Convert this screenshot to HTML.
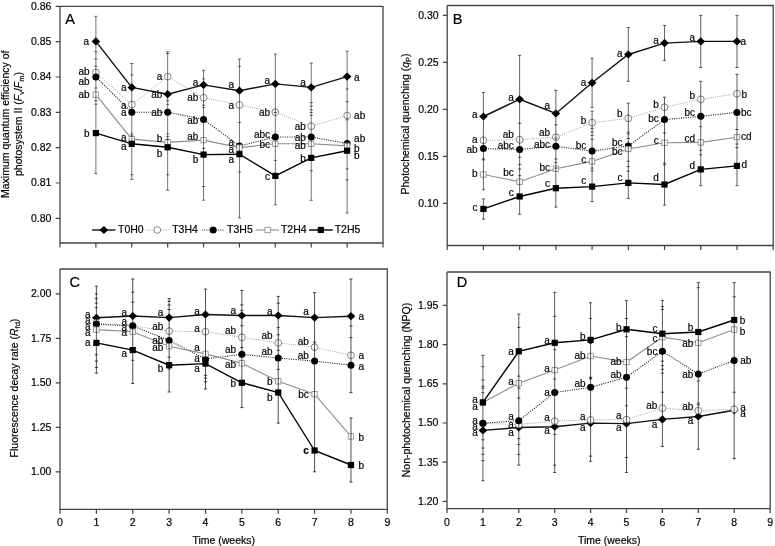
<!DOCTYPE html>
<html><head><meta charset="utf-8"><style>
html,body{margin:0;padding:0;background:#fff;}
svg{display:block;will-change:transform}
text{font-family:"Liberation Sans", sans-serif;fill:#000;stroke:#000;stroke-width:0.18px}
.t{font-size:10.5px}
.l{font-size:10px}
.big{font-size:14.5px}
.ti{font-size:10.5px}
</style></head><body>
<svg width="775" height="546" viewBox="0 0 775 546">
<rect width="775" height="546" fill="#fff"/>
<path d="M60.0,6.3V243.0H383.0V6.3H60.0" fill="none" stroke="#444" stroke-width="1.3"/>
<path d="M55.7,6.3H60.0M55.7,41.6H60.0M55.7,77.0H60.0M55.7,112.3H60.0M55.7,147.6H60.0M55.7,183.0H60.0M55.7,218.3H60.0M60.00,243.0V247.5M95.89,243.0V247.5M131.78,243.0V247.5M167.67,243.0V247.5M203.56,243.0V247.5M239.45,243.0V247.5M275.34,243.0V247.5M311.23,243.0V247.5M347.12,243.0V247.5M383.01,243.0V247.5" stroke="#444" stroke-width="1.2" fill="none"/>
<text x="51.4" y="9.7" text-anchor="end" class="t">0.86</text>
<text x="51.4" y="45.0" text-anchor="end" class="t">0.85</text>
<text x="51.4" y="80.4" text-anchor="end" class="t">0.84</text>
<text x="51.4" y="115.7" text-anchor="end" class="t">0.83</text>
<text x="51.4" y="151.0" text-anchor="end" class="t">0.82</text>
<text x="51.4" y="186.4" text-anchor="end" class="t">0.81</text>
<text x="51.4" y="221.7" text-anchor="end" class="t">0.80</text>
<text x="65.2" y="23.8" class="big">A</text>
<polyline points="95.89,41.40 131.78,87.40 167.67,94.20 203.56,84.90 239.45,90.70 275.34,83.90 311.23,87.40 347.12,76.60" fill="none" stroke="#111" stroke-width="1.4"/>
<polyline points="95.89,72.50 131.78,104.60 167.67,76.60 203.56,97.70 239.45,104.90 275.34,112.20 311.23,126.20 347.12,115.50" fill="none" stroke="#999" stroke-width="0.9" stroke-dasharray="1 1.2"/>
<polyline points="95.89,77.00 131.78,112.20 167.67,112.20 203.56,119.40 239.45,146.00 275.34,137.00 311.23,137.00 347.12,143.40" fill="none" stroke="#111" stroke-width="1.1" stroke-dasharray="1 1.3"/>
<polyline points="95.89,94.60 131.78,139.10 167.67,142.40 203.56,140.10 239.45,147.60 275.34,143.80 311.23,143.80 347.12,145.90" fill="none" stroke="#8c8c8c" stroke-width="1.1"/>
<polyline points="95.89,133.10 131.78,143.80 167.67,147.30 203.56,154.60 239.45,154.20 275.34,175.90 311.23,157.90 347.12,150.70" fill="none" stroke="#000" stroke-width="1.4"/>
<path d="M91.59,41.40L95.89,37.30L100.19,41.40L95.89,45.50Z" fill="#000"/>
<path d="M127.48,87.40L131.78,83.30L136.08,87.40L131.78,91.50Z" fill="#000"/>
<path d="M163.37,94.20L167.67,90.10L171.97,94.20L167.67,98.30Z" fill="#000"/>
<path d="M199.26,84.90L203.56,80.80L207.86,84.90L203.56,89.00Z" fill="#000"/>
<path d="M235.15,90.70L239.45,86.60L243.75,90.70L239.45,94.80Z" fill="#000"/>
<path d="M271.04,83.90L275.34,79.80L279.64,83.90L275.34,88.00Z" fill="#000"/>
<path d="M306.93,87.40L311.23,83.30L315.53,87.40L311.23,91.50Z" fill="#000"/>
<path d="M342.82,76.60L347.12,72.50L351.42,76.60L347.12,80.70Z" fill="#000"/>
<circle cx="95.89" cy="72.50" r="3.4" fill="#fff" stroke="#777" stroke-width="0.9"/>
<circle cx="131.78" cy="104.60" r="3.4" fill="#fff" stroke="#777" stroke-width="0.9"/>
<circle cx="167.67" cy="76.60" r="3.4" fill="#fff" stroke="#777" stroke-width="0.9"/>
<circle cx="203.56" cy="97.70" r="3.4" fill="#fff" stroke="#777" stroke-width="0.9"/>
<circle cx="239.45" cy="104.90" r="3.4" fill="#fff" stroke="#777" stroke-width="0.9"/>
<circle cx="275.34" cy="112.20" r="3.4" fill="#fff" stroke="#777" stroke-width="0.9"/>
<circle cx="311.23" cy="126.20" r="3.4" fill="#fff" stroke="#777" stroke-width="0.9"/>
<circle cx="347.12" cy="115.50" r="3.4" fill="#fff" stroke="#777" stroke-width="0.9"/>
<circle cx="95.89" cy="77.00" r="3.5" fill="#000"/>
<circle cx="131.78" cy="112.20" r="3.5" fill="#000"/>
<circle cx="167.67" cy="112.20" r="3.5" fill="#000"/>
<circle cx="203.56" cy="119.40" r="3.5" fill="#000"/>
<circle cx="239.45" cy="146.00" r="3.5" fill="#000"/>
<circle cx="275.34" cy="137.00" r="3.5" fill="#000"/>
<circle cx="311.23" cy="137.00" r="3.5" fill="#000"/>
<circle cx="347.12" cy="143.40" r="3.5" fill="#000"/>
<rect x="93.19" y="91.90" width="5.4" height="5.4" fill="#fff" stroke="#888" stroke-width="0.8"/>
<rect x="129.08" y="136.40" width="5.4" height="5.4" fill="#fff" stroke="#888" stroke-width="0.8"/>
<rect x="164.97" y="139.70" width="5.4" height="5.4" fill="#fff" stroke="#888" stroke-width="0.8"/>
<rect x="200.86" y="137.40" width="5.4" height="5.4" fill="#fff" stroke="#888" stroke-width="0.8"/>
<rect x="236.75" y="144.90" width="5.4" height="5.4" fill="#fff" stroke="#888" stroke-width="0.8"/>
<rect x="272.64" y="141.10" width="5.4" height="5.4" fill="#fff" stroke="#888" stroke-width="0.8"/>
<rect x="308.53" y="141.10" width="5.4" height="5.4" fill="#fff" stroke="#888" stroke-width="0.8"/>
<rect x="344.42" y="143.20" width="5.4" height="5.4" fill="#fff" stroke="#888" stroke-width="0.8"/>
<rect x="92.79" y="130.00" width="6.2" height="6.2" fill="#000"/>
<rect x="128.68" y="140.70" width="6.2" height="6.2" fill="#000"/>
<rect x="164.57" y="144.20" width="6.2" height="6.2" fill="#000"/>
<rect x="200.46" y="151.50" width="6.2" height="6.2" fill="#000"/>
<rect x="236.35" y="151.10" width="6.2" height="6.2" fill="#000"/>
<rect x="272.24" y="172.80" width="6.2" height="6.2" fill="#000"/>
<rect x="308.13" y="154.80" width="6.2" height="6.2" fill="#000"/>
<rect x="344.02" y="147.60" width="6.2" height="6.2" fill="#000"/>
<path d="M95.89,16.30V173.60M94.29,16.30H97.49M94.29,51.70H97.49M94.29,59.00H97.49M94.29,66.20H97.49M94.29,88.00H97.49M94.29,100.70H97.49M94.29,104.30H97.49M94.29,173.60H97.49M131.78,63.50V179.40M130.18,63.50H133.38M130.18,74.90H133.38M130.18,134.00H133.38M130.18,135.80H133.38M130.18,174.80H133.38M130.18,179.40H133.38M167.67,51.70V190.20M166.07,51.70H169.27M166.07,53.50H169.27M166.07,100.70H169.27M166.07,104.30H169.27M166.07,134.00H169.27M166.07,136.70H169.27M166.07,139.50H169.27M166.07,174.80H169.27M166.07,190.20H169.27M203.56,70.20V200.20M201.96,70.20H205.16M201.96,78.90H205.16M201.96,105.20H205.16M201.96,107.70H205.16M201.96,148.50H205.16M201.96,186.60H205.16M201.96,200.20H205.16M239.45,59.00V217.90M237.85,59.00H241.05M237.85,66.30H241.05M237.85,122.50H241.05M237.85,172.20H241.05M237.85,217.90H241.05M275.34,54.10V204.80M273.74,54.10H276.94M273.74,112.50H276.94M273.74,160.40H276.94M273.74,204.80H276.94M311.23,63.20V200.30M309.63,63.20H312.83M309.63,102.60H312.83M309.63,106.20H312.83M309.63,109.80H312.83M309.63,112.50H312.83M309.63,115.30H312.83M309.63,170.70H312.83M309.63,200.30H312.83M347.12,51.20V213.00M345.52,51.20H348.72M345.52,89.00H348.72M345.52,101.70H348.72M345.52,119.80H348.72M345.52,168.90H348.72M345.52,179.80H348.72M345.52,213.00H348.72" stroke="#000" stroke-opacity="0.62" stroke-width="0.9" fill="none"/>
<text x="89.09" y="45.00" text-anchor="end" class="l">a</text>
<text x="89.59" y="74.90" text-anchor="end" class="l">ab</text>
<text x="89.59" y="84.60" text-anchor="end" class="l">ab</text>
<text x="89.59" y="98.20" text-anchor="end" class="l">ab</text>
<text x="89.59" y="136.70" text-anchor="end" class="l">b</text>
<text x="126.48" y="91.00" text-anchor="end" class="l">a</text>
<text x="126.48" y="108.50" text-anchor="end" class="l">a</text>
<text x="126.48" y="115.80" text-anchor="end" class="l">a</text>
<text x="126.48" y="140.80" text-anchor="end" class="l">a</text>
<text x="126.48" y="149.90" text-anchor="end" class="l">a</text>
<text x="162.37" y="80.20" text-anchor="end" class="l">a</text>
<text x="162.37" y="97.80" text-anchor="end" class="l">ab</text>
<text x="162.37" y="115.80" text-anchor="end" class="l">ab</text>
<text x="162.37" y="142.30" text-anchor="end" class="l">b</text>
<text x="162.37" y="157.20" text-anchor="end" class="l">b</text>
<text x="198.26" y="86.40" text-anchor="end" class="l">a</text>
<text x="198.26" y="101.30" text-anchor="end" class="l">ab</text>
<text x="198.26" y="123.60" text-anchor="end" class="l">ab</text>
<text x="198.26" y="139.80" text-anchor="end" class="l">ab</text>
<text x="198.26" y="162.50" text-anchor="end" class="l">b</text>
<text x="234.15" y="88.10" text-anchor="end" class="l">a</text>
<text x="234.15" y="108.50" text-anchor="end" class="l">a</text>
<text x="234.15" y="145.60" text-anchor="end" class="l">a</text>
<text x="234.15" y="152.60" text-anchor="end" class="l">a</text>
<text x="234.15" y="162.60" text-anchor="end" class="l">a</text>
<text x="270.04" y="83.90" text-anchor="end" class="l">a</text>
<text x="270.04" y="115.60" text-anchor="end" class="l">ab</text>
<text x="270.04" y="137.50" text-anchor="end" class="l">abc</text>
<text x="270.04" y="148.10" text-anchor="end" class="l">bc</text>
<text x="270.04" y="180.10" text-anchor="end" class="l">c</text>
<text x="305.93" y="86.00" text-anchor="end" class="l">a</text>
<text x="305.93" y="129.80" text-anchor="end" class="l">ab</text>
<text x="305.93" y="141.20" text-anchor="end" class="l">ab</text>
<text x="305.93" y="148.50" text-anchor="end" class="l">ab</text>
<text x="305.93" y="161.90" text-anchor="end" class="l">b</text>
<text x="354.12" y="80.60" class="l">a</text>
<text x="354.12" y="119.10" class="l">ab</text>
<text x="354.12" y="142.30" class="l">ab</text>
<text x="354.12" y="152.20" class="l">b</text>
<text x="354.12" y="159.40" class="l">b</text>
<path d="M92.1,230.0H115.5" stroke="#111" stroke-width="1.4"/>
<path d="M99.60,230.00L103.90,225.90L108.20,230.00L103.90,234.10Z" fill="#000"/>
<path d="M146,230.0H168.7" stroke="#999" stroke-width="0.9" stroke-dasharray="1 1.2"/>
<circle cx="157.30" cy="230.00" r="3.4" fill="#fff" stroke="#777" stroke-width="0.9"/>
<path d="M201.8,230.0H224.5" stroke="#111" stroke-width="1.1" stroke-dasharray="1 1.3"/>
<circle cx="213.20" cy="230.00" r="3.5" fill="#000"/>
<path d="M255.6,230.0H279" stroke="#8c8c8c" stroke-width="1.1"/>
<rect x="264.90" y="227.30" width="5.4" height="5.4" fill="#fff" stroke="#888" stroke-width="0.8"/>
<path d="M309,230.0H332.8" stroke="#000" stroke-width="1.4"/>
<rect x="317.70" y="226.90" width="6.2" height="6.2" fill="#000"/>
<text x="118.0" y="233.3" class="t">T0H0</text>
<text x="172.2" y="233.3" class="t">T3H4</text>
<text x="227.1" y="233.3" class="t">T3H5</text>
<text x="280.9" y="233.3" class="t">T2H4</text>
<text x="334.7" y="233.3" class="t">T2H5</text>
<text transform="translate(9.3,124.3) rotate(-90)" text-anchor="middle" class="ti">Maximum quantum efficiency of</text>
<text transform="translate(21.6,124.0) rotate(-90)" text-anchor="middle" class="ti">photosystem II (<tspan font-style="italic">F</tspan><tspan font-size="7.5" dy="2">v</tspan><tspan dy="-2">/</tspan><tspan font-style="italic">F</tspan><tspan font-size="7.5" dy="2">m</tspan><tspan dy="-2">)</tspan></text>
<path d="M447.2,5.5V245.5H773.2V5.5H447.2" fill="none" stroke="#444" stroke-width="1.3"/>
<path d="M442.9,15.4H447.2M442.9,62.4H447.2M442.9,109.4H447.2M442.9,156.3H447.2M442.9,203.3H447.2M447.20,245.5V250.0M483.42,245.5V250.0M519.64,245.5V250.0M555.86,245.5V250.0M592.08,245.5V250.0M628.30,245.5V250.0M664.52,245.5V250.0M700.74,245.5V250.0M736.96,245.5V250.0M773.18,245.5V250.0" stroke="#444" stroke-width="1.2" fill="none"/>
<text x="438.6" y="18.8" text-anchor="end" class="t">0.30</text>
<text x="438.6" y="65.8" text-anchor="end" class="t">0.25</text>
<text x="438.6" y="112.8" text-anchor="end" class="t">0.20</text>
<text x="438.6" y="159.7" text-anchor="end" class="t">0.15</text>
<text x="438.6" y="206.7" text-anchor="end" class="t">0.10</text>
<text x="452.8" y="23.8" class="big">B</text>
<polyline points="483.42,116.50 519.64,99.30 555.86,113.50 592.08,82.80 628.30,54.50 664.52,43.10 700.74,41.40 736.96,41.40" fill="none" stroke="#111" stroke-width="1.4"/>
<polyline points="483.42,140.30 519.64,139.70 555.86,137.20 592.08,122.70 628.30,118.40 664.52,107.20 700.74,99.30 736.96,93.70" fill="none" stroke="#999" stroke-width="0.9" stroke-dasharray="1 1.2"/>
<polyline points="483.42,148.60 519.64,149.40 555.86,146.30 592.08,151.10 628.30,145.90 664.52,119.60 700.74,116.30 736.96,112.40" fill="none" stroke="#111" stroke-width="1.1" stroke-dasharray="1 1.3"/>
<polyline points="483.42,174.50 519.64,181.70 555.86,168.70 592.08,161.40 628.30,149.00 664.52,142.80 700.74,142.40 736.96,137.20" fill="none" stroke="#8c8c8c" stroke-width="1.1"/>
<polyline points="483.42,208.90 519.64,196.50 555.86,188.20 592.08,186.60 628.30,182.90 664.52,184.50 700.74,169.40 736.96,165.90" fill="none" stroke="#000" stroke-width="1.4"/>
<path d="M479.12,116.50L483.42,112.40L487.72,116.50L483.42,120.60Z" fill="#000"/>
<path d="M515.34,99.30L519.64,95.20L523.94,99.30L519.64,103.40Z" fill="#000"/>
<path d="M551.56,113.50L555.86,109.40L560.16,113.50L555.86,117.60Z" fill="#000"/>
<path d="M587.78,82.80L592.08,78.70L596.38,82.80L592.08,86.90Z" fill="#000"/>
<path d="M624.00,54.50L628.30,50.40L632.60,54.50L628.30,58.60Z" fill="#000"/>
<path d="M660.22,43.10L664.52,39.00L668.82,43.10L664.52,47.20Z" fill="#000"/>
<path d="M696.44,41.40L700.74,37.30L705.04,41.40L700.74,45.50Z" fill="#000"/>
<path d="M732.66,41.40L736.96,37.30L741.26,41.40L736.96,45.50Z" fill="#000"/>
<circle cx="483.42" cy="140.30" r="3.4" fill="#fff" stroke="#777" stroke-width="0.9"/>
<circle cx="519.64" cy="139.70" r="3.4" fill="#fff" stroke="#777" stroke-width="0.9"/>
<circle cx="555.86" cy="137.20" r="3.4" fill="#fff" stroke="#777" stroke-width="0.9"/>
<circle cx="592.08" cy="122.70" r="3.4" fill="#fff" stroke="#777" stroke-width="0.9"/>
<circle cx="628.30" cy="118.40" r="3.4" fill="#fff" stroke="#777" stroke-width="0.9"/>
<circle cx="664.52" cy="107.20" r="3.4" fill="#fff" stroke="#777" stroke-width="0.9"/>
<circle cx="700.74" cy="99.30" r="3.4" fill="#fff" stroke="#777" stroke-width="0.9"/>
<circle cx="736.96" cy="93.70" r="3.4" fill="#fff" stroke="#777" stroke-width="0.9"/>
<circle cx="483.42" cy="148.60" r="3.5" fill="#000"/>
<circle cx="519.64" cy="149.40" r="3.5" fill="#000"/>
<circle cx="555.86" cy="146.30" r="3.5" fill="#000"/>
<circle cx="592.08" cy="151.10" r="3.5" fill="#000"/>
<circle cx="628.30" cy="145.90" r="3.5" fill="#000"/>
<circle cx="664.52" cy="119.60" r="3.5" fill="#000"/>
<circle cx="700.74" cy="116.30" r="3.5" fill="#000"/>
<circle cx="736.96" cy="112.40" r="3.5" fill="#000"/>
<rect x="480.72" y="171.80" width="5.4" height="5.4" fill="#fff" stroke="#888" stroke-width="0.8"/>
<rect x="516.94" y="179.00" width="5.4" height="5.4" fill="#fff" stroke="#888" stroke-width="0.8"/>
<rect x="553.16" y="166.00" width="5.4" height="5.4" fill="#fff" stroke="#888" stroke-width="0.8"/>
<rect x="589.38" y="158.70" width="5.4" height="5.4" fill="#fff" stroke="#888" stroke-width="0.8"/>
<rect x="625.60" y="146.30" width="5.4" height="5.4" fill="#fff" stroke="#888" stroke-width="0.8"/>
<rect x="661.82" y="140.10" width="5.4" height="5.4" fill="#fff" stroke="#888" stroke-width="0.8"/>
<rect x="698.04" y="139.70" width="5.4" height="5.4" fill="#fff" stroke="#888" stroke-width="0.8"/>
<rect x="734.26" y="134.50" width="5.4" height="5.4" fill="#fff" stroke="#888" stroke-width="0.8"/>
<rect x="480.32" y="205.80" width="6.2" height="6.2" fill="#000"/>
<rect x="516.54" y="193.40" width="6.2" height="6.2" fill="#000"/>
<rect x="552.76" y="185.10" width="6.2" height="6.2" fill="#000"/>
<rect x="588.98" y="183.50" width="6.2" height="6.2" fill="#000"/>
<rect x="625.20" y="179.80" width="6.2" height="6.2" fill="#000"/>
<rect x="661.42" y="181.40" width="6.2" height="6.2" fill="#000"/>
<rect x="697.64" y="166.30" width="6.2" height="6.2" fill="#000"/>
<rect x="733.86" y="162.80" width="6.2" height="6.2" fill="#000"/>
<path d="M483.42,92.50V189.80M483.42,198.90V219.20M481.82,92.50H485.02M481.82,158.90H485.02M481.82,159.90H485.02M481.82,189.80H485.02M481.82,198.90H485.02M481.82,219.20H485.02M519.64,55.30V214.30M518.04,55.30H521.24M518.04,123.30H521.24M518.04,157.20H521.24M518.04,164.50H521.24M518.04,169.00H521.24M518.04,175.70H521.24M518.04,214.30H521.24M555.86,90.30V207.10M554.26,90.30H557.46M554.26,124.80H557.46M554.26,138.20H557.46M554.26,159.00H557.46M554.26,162.60H557.46M554.26,168.10H557.46M554.26,207.10H557.46M592.08,58.20V107.60M592.08,111.20V201.60M590.48,58.20H593.68M590.48,107.60H593.68M590.48,111.20H593.68M590.48,128.40H593.68M590.48,132.00H593.68M590.48,135.40H593.68M590.48,139.30H593.68M590.48,168.10H593.68M590.48,170.80H593.68M590.48,201.60H593.68M628.30,27.60V81.30M628.30,103.20V198.40M626.70,27.60H629.90M626.70,81.30H629.90M626.70,103.20H629.90M626.70,132.20H629.90M626.70,134.00H629.90M626.70,138.50H629.90M626.70,161.20H629.90M626.70,166.60H629.90M626.70,171.20H629.90M626.70,198.40H629.90M664.52,25.40V60.40M664.52,97.20V205.20M662.92,25.40H666.12M662.92,60.40H666.12M662.92,97.20H666.12M662.92,133.00H666.12M662.92,163.00H666.12M662.92,164.80H666.12M662.92,205.20H666.12M700.74,15.40V67.50M700.74,81.30V185.70M699.14,15.40H702.34M699.14,67.50H702.34M699.14,81.30H702.34M699.14,126.70H702.34M699.14,150.30H702.34M699.14,154.80H702.34M699.14,185.70H702.34M736.96,15.40V67.50M736.96,74.40V185.70M735.36,15.40H738.56M735.36,67.50H738.56M735.36,74.40H738.56M735.36,129.50H738.56M735.36,144.00H738.56M735.36,147.60H738.56M735.36,185.70H738.56" stroke="#000" stroke-opacity="0.69" stroke-width="0.9" fill="none"/>
<text x="477.62" y="118.40" text-anchor="end" class="l">a</text>
<text x="477.62" y="142.90" text-anchor="end" class="l">a</text>
<text x="477.62" y="152.60" text-anchor="end" class="l">ab</text>
<text x="477.62" y="177.00" text-anchor="end" class="l">b</text>
<text x="477.62" y="210.90" text-anchor="end" class="l">c</text>
<text x="513.84" y="100.50" text-anchor="end" class="l">a</text>
<text x="513.84" y="138.10" text-anchor="end" class="l">ab</text>
<text x="513.84" y="149.10" text-anchor="end" class="l">abc</text>
<text x="513.84" y="176.40" text-anchor="end" class="l">bc</text>
<text x="513.84" y="196.10" text-anchor="end" class="l">c</text>
<text x="550.06" y="108.50" text-anchor="end" class="l">a</text>
<text x="550.06" y="136.00" text-anchor="end" class="l">ab</text>
<text x="550.06" y="147.80" text-anchor="end" class="l">abc</text>
<text x="550.06" y="171.20" text-anchor="end" class="l">bc</text>
<text x="550.06" y="187.20" text-anchor="end" class="l">c</text>
<text x="586.28" y="86.00" text-anchor="end" class="l">a</text>
<text x="586.28" y="124.20" text-anchor="end" class="l">b</text>
<text x="586.28" y="149.10" text-anchor="end" class="l">bc</text>
<text x="586.28" y="162.50" text-anchor="end" class="l">c</text>
<text x="586.28" y="183.60" text-anchor="end" class="l">c</text>
<text x="622.50" y="57.40" text-anchor="end" class="l">a</text>
<text x="622.50" y="117.40" text-anchor="end" class="l">b</text>
<text x="622.50" y="146.40" text-anchor="end" class="l">bc</text>
<text x="622.50" y="155.30" text-anchor="end" class="l">bc</text>
<text x="622.50" y="180.60" text-anchor="end" class="l">c</text>
<text x="658.72" y="44.40" text-anchor="end" class="l">a</text>
<text x="658.72" y="108.10" text-anchor="end" class="l">b</text>
<text x="658.72" y="122.00" text-anchor="end" class="l">bc</text>
<text x="658.72" y="144.30" text-anchor="end" class="l">c</text>
<text x="658.72" y="181.20" text-anchor="end" class="l">d</text>
<text x="694.94" y="40.50" text-anchor="end" class="l">a</text>
<text x="694.94" y="98.80" text-anchor="end" class="l">b</text>
<text x="694.94" y="116.00" text-anchor="end" class="l">bc</text>
<text x="694.94" y="142.30" text-anchor="end" class="l">cd</text>
<text x="694.94" y="169.20" text-anchor="end" class="l">d</text>
<text x="740.46" y="45.00" class="l">a</text>
<text x="741.46" y="98.20" class="l">b</text>
<text x="740.96" y="116.00" class="l">bc</text>
<text x="740.96" y="139.60" class="l">cd</text>
<text x="741.46" y="168.10" class="l">d</text>
<text transform="translate(409.3,124.0) rotate(-90)" text-anchor="middle" class="ti">Photochemical quenching (<tspan font-style="italic">q</tspan><tspan font-size="7.5" dy="2">P</tspan><tspan dy="-2">)</tspan></text>
<path d="M60.0,269.0V509.3H387.3V269.0H60.0" fill="none" stroke="#444" stroke-width="1.3"/>
<path d="M55.7,293.9H60.0M55.7,338.4H60.0M55.7,382.9H60.0M55.7,427.4H60.0M55.7,471.8H60.0M60.00,509.3V513.8M96.37,509.3V513.8M132.74,509.3V513.8M169.11,509.3V513.8M205.48,509.3V513.8M241.85,509.3V513.8M278.22,509.3V513.8M314.59,509.3V513.8M350.96,509.3V513.8M387.33,509.3V513.8" stroke="#444" stroke-width="1.2" fill="none"/>
<text x="51.4" y="297.3" text-anchor="end" class="t">2.00</text>
<text x="51.4" y="341.8" text-anchor="end" class="t">1.75</text>
<text x="51.4" y="386.3" text-anchor="end" class="t">1.50</text>
<text x="51.4" y="430.8" text-anchor="end" class="t">1.25</text>
<text x="51.4" y="475.2" text-anchor="end" class="t">1.00</text>
<text x="60.00" y="526.3" text-anchor="middle" class="t">0</text>
<text x="96.37" y="526.3" text-anchor="middle" class="t">1</text>
<text x="132.74" y="526.3" text-anchor="middle" class="t">2</text>
<text x="169.11" y="526.3" text-anchor="middle" class="t">3</text>
<text x="205.48" y="526.3" text-anchor="middle" class="t">4</text>
<text x="241.85" y="526.3" text-anchor="middle" class="t">5</text>
<text x="278.22" y="526.3" text-anchor="middle" class="t">6</text>
<text x="314.59" y="526.3" text-anchor="middle" class="t">7</text>
<text x="350.96" y="526.3" text-anchor="middle" class="t">8</text>
<text x="387.33" y="526.3" text-anchor="middle" class="t">9</text>
<text x="69.5" y="287.0" class="big">C</text>
<polyline points="96.37,317.80 132.74,316.00 169.11,317.60 205.48,314.50 241.85,315.50 278.22,315.50 314.59,317.60 350.96,316.20" fill="none" stroke="#111" stroke-width="1.4"/>
<polyline points="96.37,323.00 132.74,325.90 169.11,331.10 205.48,331.70 241.85,337.30 278.22,342.90 314.59,347.20 350.96,355.30" fill="none" stroke="#999" stroke-width="0.9" stroke-dasharray="1 1.2"/>
<polyline points="96.37,324.20 132.74,326.00 169.11,340.40 205.48,359.00 241.85,354.30 278.22,358.00 314.59,361.10 350.96,365.20" fill="none" stroke="#111" stroke-width="1.1" stroke-dasharray="1 1.3"/>
<polyline points="96.37,329.60 132.74,331.70 169.11,346.20 205.48,353.90 241.85,363.30 278.22,381.30 314.59,394.20 350.96,436.40" fill="none" stroke="#8c8c8c" stroke-width="1.1"/>
<polyline points="96.37,342.90 132.74,350.10 169.11,365.20 205.48,363.60 241.85,382.80 278.22,392.50 314.59,450.50 350.96,465.00" fill="none" stroke="#000" stroke-width="1.4"/>
<path d="M92.07,317.80L96.37,313.70L100.67,317.80L96.37,321.90Z" fill="#000"/>
<path d="M128.44,316.00L132.74,311.90L137.04,316.00L132.74,320.10Z" fill="#000"/>
<path d="M164.81,317.60L169.11,313.50L173.41,317.60L169.11,321.70Z" fill="#000"/>
<path d="M201.18,314.50L205.48,310.40L209.78,314.50L205.48,318.60Z" fill="#000"/>
<path d="M237.55,315.50L241.85,311.40L246.15,315.50L241.85,319.60Z" fill="#000"/>
<path d="M273.92,315.50L278.22,311.40L282.52,315.50L278.22,319.60Z" fill="#000"/>
<path d="M310.29,317.60L314.59,313.50L318.89,317.60L314.59,321.70Z" fill="#000"/>
<path d="M346.66,316.20L350.96,312.10L355.26,316.20L350.96,320.30Z" fill="#000"/>
<circle cx="96.37" cy="323.00" r="3.4" fill="#fff" stroke="#777" stroke-width="0.9"/>
<circle cx="132.74" cy="325.90" r="3.4" fill="#fff" stroke="#777" stroke-width="0.9"/>
<circle cx="169.11" cy="331.10" r="3.4" fill="#fff" stroke="#777" stroke-width="0.9"/>
<circle cx="205.48" cy="331.70" r="3.4" fill="#fff" stroke="#777" stroke-width="0.9"/>
<circle cx="241.85" cy="337.30" r="3.4" fill="#fff" stroke="#777" stroke-width="0.9"/>
<circle cx="278.22" cy="342.90" r="3.4" fill="#fff" stroke="#777" stroke-width="0.9"/>
<circle cx="314.59" cy="347.20" r="3.4" fill="#fff" stroke="#777" stroke-width="0.9"/>
<circle cx="350.96" cy="355.30" r="3.4" fill="#fff" stroke="#777" stroke-width="0.9"/>
<circle cx="96.37" cy="324.20" r="3.5" fill="#000"/>
<circle cx="132.74" cy="326.00" r="3.5" fill="#000"/>
<circle cx="169.11" cy="340.40" r="3.5" fill="#000"/>
<circle cx="205.48" cy="359.00" r="3.5" fill="#000"/>
<circle cx="241.85" cy="354.30" r="3.5" fill="#000"/>
<circle cx="278.22" cy="358.00" r="3.5" fill="#000"/>
<circle cx="314.59" cy="361.10" r="3.5" fill="#000"/>
<circle cx="350.96" cy="365.20" r="3.5" fill="#000"/>
<rect x="93.67" y="326.90" width="5.4" height="5.4" fill="#fff" stroke="#888" stroke-width="0.8"/>
<rect x="130.04" y="329.00" width="5.4" height="5.4" fill="#fff" stroke="#888" stroke-width="0.8"/>
<rect x="166.41" y="343.50" width="5.4" height="5.4" fill="#fff" stroke="#888" stroke-width="0.8"/>
<rect x="202.78" y="351.20" width="5.4" height="5.4" fill="#fff" stroke="#888" stroke-width="0.8"/>
<rect x="239.15" y="360.60" width="5.4" height="5.4" fill="#fff" stroke="#888" stroke-width="0.8"/>
<rect x="275.52" y="378.60" width="5.4" height="5.4" fill="#fff" stroke="#888" stroke-width="0.8"/>
<rect x="311.89" y="391.50" width="5.4" height="5.4" fill="#fff" stroke="#888" stroke-width="0.8"/>
<rect x="348.26" y="433.70" width="5.4" height="5.4" fill="#fff" stroke="#888" stroke-width="0.8"/>
<rect x="93.27" y="339.80" width="6.2" height="6.2" fill="#000"/>
<rect x="129.64" y="347.00" width="6.2" height="6.2" fill="#000"/>
<rect x="166.01" y="362.10" width="6.2" height="6.2" fill="#000"/>
<rect x="202.38" y="360.50" width="6.2" height="6.2" fill="#000"/>
<rect x="238.75" y="379.70" width="6.2" height="6.2" fill="#000"/>
<rect x="275.12" y="389.40" width="6.2" height="6.2" fill="#000"/>
<rect x="311.49" y="447.40" width="6.2" height="6.2" fill="#000"/>
<rect x="347.86" y="461.90" width="6.2" height="6.2" fill="#000"/>
<path d="M96.37,286.20V373.20M94.77,286.20H97.97M94.77,294.00H97.97M94.77,298.60H97.97M94.77,303.10H97.97M94.77,307.60H97.97M94.77,354.80H97.97M94.77,361.10H97.97M94.77,367.50H97.97M94.77,373.20H97.97M132.74,279.00V383.50M131.14,279.00H134.34M131.14,292.20H134.34M131.14,302.20H134.34M131.14,360.30H134.34M131.14,383.50H134.34M169.11,298.60V392.00M167.51,298.60H170.71M167.51,301.30H170.71M167.51,304.90H170.71M167.51,309.50H170.71M167.51,357.20H170.71M167.51,369.00H170.71M167.51,392.00H170.71M205.48,289.10V389.00M203.88,289.10H207.08M203.88,375.40H207.08M203.88,378.10H207.08M203.88,381.70H207.08M203.88,389.00H207.08M241.85,290.40V407.60M240.25,290.40H243.45M240.25,304.90H243.45M240.25,310.40H243.45M240.25,325.80H243.45M240.25,347.50H243.45M240.25,407.60H243.45M278.22,296.40V423.10M276.62,296.40H279.82M276.62,303.10H279.82M276.62,327.60H279.82M276.62,334.80H279.82M276.62,350.30H279.82M276.62,369.30H279.82M276.62,423.10H279.82M314.59,292.60V471.80M312.99,292.60H316.19M312.99,342.10H316.19M312.99,471.80H316.19M350.96,279.00V392.70M350.96,418.00V482.10M349.36,279.00H352.56M349.36,326.10H352.56M349.36,337.60H352.56M349.36,392.70H352.56M349.36,418.00H352.56M349.36,482.10H352.56" stroke="#000" stroke-opacity="0.78" stroke-width="0.9" fill="none"/>
<text x="90.67" y="318.40" text-anchor="end" class="l">a</text>
<text x="90.67" y="324.20" text-anchor="end" class="l">a</text>
<text x="90.67" y="330.00" text-anchor="end" class="l">a</text>
<text x="90.67" y="335.80" text-anchor="end" class="l">a</text>
<text x="90.67" y="346.20" text-anchor="end" class="l">a</text>
<text x="127.04" y="316.00" text-anchor="end" class="l">a</text>
<text x="127.04" y="325.40" text-anchor="end" class="l">a</text>
<text x="127.04" y="330.50" text-anchor="end" class="l">a</text>
<text x="127.04" y="335.70" text-anchor="end" class="l">a</text>
<text x="127.04" y="357.40" text-anchor="end" class="l">a</text>
<text x="163.41" y="316.00" text-anchor="end" class="l">a</text>
<text x="163.41" y="329.90" text-anchor="end" class="l">ab</text>
<text x="163.41" y="344.00" text-anchor="end" class="l">ab</text>
<text x="163.41" y="351.20" text-anchor="end" class="l">ab</text>
<text x="163.41" y="371.90" text-anchor="end" class="l">b</text>
<text x="199.78" y="315.00" text-anchor="end" class="l">a</text>
<text x="199.78" y="331.60" text-anchor="end" class="l">a</text>
<text x="199.78" y="351.20" text-anchor="end" class="l">a</text>
<text x="199.78" y="362.20" text-anchor="end" class="l">a</text>
<text x="199.78" y="371.90" text-anchor="end" class="l">a</text>
<text x="236.15" y="314.00" text-anchor="end" class="l">a</text>
<text x="236.15" y="333.60" text-anchor="end" class="l">ab</text>
<text x="236.15" y="352.90" text-anchor="end" class="l">ab</text>
<text x="236.15" y="368.20" text-anchor="end" class="l">ab</text>
<text x="236.15" y="387.40" text-anchor="end" class="l">b</text>
<text x="272.52" y="314.60" text-anchor="end" class="l">a</text>
<text x="272.52" y="339.40" text-anchor="end" class="l">ab</text>
<text x="272.52" y="355.00" text-anchor="end" class="l">ab</text>
<text x="272.52" y="385.30" text-anchor="end" class="l">b</text>
<text x="272.52" y="400.50" text-anchor="end" class="l">b</text>
<text x="308.89" y="315.40" text-anchor="end" class="l">a</text>
<text x="308.89" y="344.60" text-anchor="end" class="l">ab</text>
<text x="308.89" y="358.50" text-anchor="end" class="l">ab</text>
<text x="308.89" y="397.80" text-anchor="end" class="l">bc</text>
<text x="308.79" y="453.70" text-anchor="end" class="l" font-weight="bold">c</text>
<text x="358.46" y="320.20" class="l">a</text>
<text x="358.46" y="359.10" class="l">a</text>
<text x="358.46" y="369.50" class="l">a</text>
<text x="358.46" y="440.60" class="l">b</text>
<text x="358.46" y="468.80" class="l">b</text>
<text transform="translate(17.8,388.0) rotate(-90)" text-anchor="middle" class="ti">Fluorescence decay rate (<tspan font-style="italic">R</tspan><tspan font-size="7.5" dy="2">fd</tspan><tspan dy="-2">)</tspan></text>
<text x="223.7" y="543.5" text-anchor="middle" class="ti">Time (weeks)</text>
<path d="M447.0,272.0V508.6H770.2V272.0H447.0" fill="none" stroke="#444" stroke-width="1.3"/>
<path d="M442.7,305.4H447.0M442.7,344.6H447.0M442.7,383.8H447.0M442.7,423.0H447.0M442.7,462.2H447.0M442.7,501.4H447.0M447.00,508.6V513.1M482.90,508.6V513.1M518.80,508.6V513.1M554.70,508.6V513.1M590.60,508.6V513.1M626.50,508.6V513.1M662.40,508.6V513.1M698.30,508.6V513.1M734.20,508.6V513.1M770.10,508.6V513.1" stroke="#444" stroke-width="1.2" fill="none"/>
<text x="438.4" y="308.8" text-anchor="end" class="t">1.95</text>
<text x="438.4" y="348.0" text-anchor="end" class="t">1.80</text>
<text x="438.4" y="387.2" text-anchor="end" class="t">1.65</text>
<text x="438.4" y="426.4" text-anchor="end" class="t">1.50</text>
<text x="438.4" y="465.6" text-anchor="end" class="t">1.35</text>
<text x="438.4" y="504.8" text-anchor="end" class="t">1.20</text>
<text x="447.00" y="525.6" text-anchor="middle" class="t">0</text>
<text x="482.90" y="525.6" text-anchor="middle" class="t">1</text>
<text x="518.80" y="525.6" text-anchor="middle" class="t">2</text>
<text x="554.70" y="525.6" text-anchor="middle" class="t">3</text>
<text x="590.60" y="525.6" text-anchor="middle" class="t">4</text>
<text x="626.50" y="525.6" text-anchor="middle" class="t">5</text>
<text x="662.40" y="525.6" text-anchor="middle" class="t">6</text>
<text x="698.30" y="525.6" text-anchor="middle" class="t">7</text>
<text x="734.20" y="525.6" text-anchor="middle" class="t">8</text>
<text x="770.10" y="525.6" text-anchor="middle" class="t">9</text>
<text x="456.8" y="287.0" class="big">D</text>
<polyline points="482.90,430.40 518.80,427.50 554.70,426.70 590.60,423.10 626.50,423.60 662.40,419.40 698.30,416.50 734.20,410.30" fill="none" stroke="#111" stroke-width="1.4"/>
<polyline points="482.90,423.50 518.80,424.50 554.70,421.10 590.60,420.00 626.50,419.60 662.40,408.20 698.30,410.70 734.20,409.30" fill="none" stroke="#999" stroke-width="0.9" stroke-dasharray="1 1.2"/>
<polyline points="482.90,423.20 518.80,420.70 554.70,392.50 590.60,387.30 626.50,377.20 662.40,351.30 698.30,374.10 734.20,360.40" fill="none" stroke="#111" stroke-width="1.1" stroke-dasharray="1 1.3"/>
<polyline points="482.90,402.40 518.80,383.20 554.70,370.10 590.60,356.00 626.50,362.10 662.40,337.20 698.30,342.80 734.20,329.60" fill="none" stroke="#8c8c8c" stroke-width="1.1"/>
<polyline points="482.90,402.40 518.80,351.30 554.70,342.80 590.60,339.90 626.50,329.30 662.40,333.70 698.30,332.00 734.20,320.00" fill="none" stroke="#000" stroke-width="1.4"/>
<path d="M478.60,430.40L482.90,426.30L487.20,430.40L482.90,434.50Z" fill="#000"/>
<path d="M514.50,427.50L518.80,423.40L523.10,427.50L518.80,431.60Z" fill="#000"/>
<path d="M550.40,426.70L554.70,422.60L559.00,426.70L554.70,430.80Z" fill="#000"/>
<path d="M586.30,423.10L590.60,419.00L594.90,423.10L590.60,427.20Z" fill="#000"/>
<path d="M622.20,423.60L626.50,419.50L630.80,423.60L626.50,427.70Z" fill="#000"/>
<path d="M658.10,419.40L662.40,415.30L666.70,419.40L662.40,423.50Z" fill="#000"/>
<path d="M694.00,416.50L698.30,412.40L702.60,416.50L698.30,420.60Z" fill="#000"/>
<path d="M729.90,410.30L734.20,406.20L738.50,410.30L734.20,414.40Z" fill="#000"/>
<circle cx="482.90" cy="423.50" r="3.4" fill="#fff" stroke="#777" stroke-width="0.9"/>
<circle cx="518.80" cy="424.50" r="3.4" fill="#fff" stroke="#777" stroke-width="0.9"/>
<circle cx="554.70" cy="421.10" r="3.4" fill="#fff" stroke="#777" stroke-width="0.9"/>
<circle cx="590.60" cy="420.00" r="3.4" fill="#fff" stroke="#777" stroke-width="0.9"/>
<circle cx="626.50" cy="419.60" r="3.4" fill="#fff" stroke="#777" stroke-width="0.9"/>
<circle cx="662.40" cy="408.20" r="3.4" fill="#fff" stroke="#777" stroke-width="0.9"/>
<circle cx="698.30" cy="410.70" r="3.4" fill="#fff" stroke="#777" stroke-width="0.9"/>
<circle cx="734.20" cy="409.30" r="3.4" fill="#fff" stroke="#777" stroke-width="0.9"/>
<circle cx="482.90" cy="423.20" r="3.5" fill="#000"/>
<circle cx="518.80" cy="420.70" r="3.5" fill="#000"/>
<circle cx="554.70" cy="392.50" r="3.5" fill="#000"/>
<circle cx="590.60" cy="387.30" r="3.5" fill="#000"/>
<circle cx="626.50" cy="377.20" r="3.5" fill="#000"/>
<circle cx="662.40" cy="351.30" r="3.5" fill="#000"/>
<circle cx="698.30" cy="374.10" r="3.5" fill="#000"/>
<circle cx="734.20" cy="360.40" r="3.5" fill="#000"/>
<rect x="480.20" y="399.70" width="5.4" height="5.4" fill="#fff" stroke="#888" stroke-width="0.8"/>
<rect x="516.10" y="380.50" width="5.4" height="5.4" fill="#fff" stroke="#888" stroke-width="0.8"/>
<rect x="552.00" y="367.40" width="5.4" height="5.4" fill="#fff" stroke="#888" stroke-width="0.8"/>
<rect x="587.90" y="353.30" width="5.4" height="5.4" fill="#fff" stroke="#888" stroke-width="0.8"/>
<rect x="623.80" y="359.40" width="5.4" height="5.4" fill="#fff" stroke="#888" stroke-width="0.8"/>
<rect x="659.70" y="334.50" width="5.4" height="5.4" fill="#fff" stroke="#888" stroke-width="0.8"/>
<rect x="695.60" y="340.10" width="5.4" height="5.4" fill="#fff" stroke="#888" stroke-width="0.8"/>
<rect x="731.50" y="326.90" width="5.4" height="5.4" fill="#fff" stroke="#888" stroke-width="0.8"/>
<rect x="479.80" y="399.30" width="6.2" height="6.2" fill="#000"/>
<rect x="515.70" y="348.20" width="6.2" height="6.2" fill="#000"/>
<rect x="551.60" y="339.70" width="6.2" height="6.2" fill="#000"/>
<rect x="587.50" y="336.80" width="6.2" height="6.2" fill="#000"/>
<rect x="623.40" y="326.20" width="6.2" height="6.2" fill="#000"/>
<rect x="659.30" y="330.60" width="6.2" height="6.2" fill="#000"/>
<rect x="695.20" y="328.90" width="6.2" height="6.2" fill="#000"/>
<rect x="731.10" y="316.90" width="6.2" height="6.2" fill="#000"/>
<path d="M482.90,355.30V480.70M481.30,355.30H484.50M481.30,366.70H484.50M481.30,380.00H484.50M481.30,386.30H484.50M481.30,388.10H484.50M481.30,392.70H484.50M481.30,439.80H484.50M481.30,448.00H484.50M481.30,454.30H484.50M481.30,460.70H484.50M481.30,480.70H484.50M518.80,314.10V465.20M517.20,314.10H520.40M517.20,327.50H520.40M517.20,376.10H520.40M517.20,388.10H520.40M517.20,398.10H520.40M517.20,438.60H520.40M517.20,444.40H520.40M517.20,454.30H520.40M517.20,465.20H520.40M554.70,292.30V472.50M553.10,292.30H556.30M553.10,316.30H556.30M553.10,349.80H556.30M553.10,379.00H556.30M553.10,434.40H556.30M553.10,465.20H556.30M553.10,472.50H556.30M590.60,302.70V461.30M589.00,302.70H592.20M589.00,318.40H592.20M589.00,343.50H592.20M589.00,377.30H592.20M589.00,379.00H592.20M589.00,377.90H592.20M589.00,456.10H592.20M589.00,461.30H592.20M626.50,300.40V472.50M624.90,300.40H628.10M624.90,318.50H628.10M624.90,336.70H628.10M624.90,388.20H628.10M624.90,405.80H628.10M624.90,457.50H628.10M624.90,472.50H628.10M662.40,300.40V446.90M660.80,300.40H664.00M660.80,306.70H664.00M660.80,309.50H664.00M660.80,361.10H664.00M660.80,365.70H664.00M660.80,369.30H664.00M660.80,373.20H664.00M660.80,392.20H664.00M660.80,446.60H664.00M698.30,282.60V449.50M696.70,282.60H699.90M696.70,287.70H699.90M696.70,381.00H699.90M696.70,403.10H699.90M696.70,404.90H699.90M696.70,449.30H699.90M734.20,282.60V459.50M732.60,282.60H735.80M732.60,296.80H735.80M732.60,392.20H735.80M732.60,458.40H735.80" stroke="#000" stroke-opacity="0.73" stroke-width="0.9" fill="none"/>
<text x="477.90" y="403.40" text-anchor="end" class="l">a</text>
<text x="477.90" y="409.60" text-anchor="end" class="l">a</text>
<text x="477.90" y="423.60" text-anchor="end" class="l">a</text>
<text x="477.90" y="429.80" text-anchor="end" class="l">a</text>
<text x="477.90" y="436.00" text-anchor="end" class="l">a</text>
<text x="513.80" y="354.90" text-anchor="end" class="l">a</text>
<text x="513.80" y="385.30" text-anchor="end" class="l">a</text>
<text x="513.80" y="419.70" text-anchor="end" class="l">a</text>
<text x="513.80" y="427.60" text-anchor="end" class="l">a</text>
<text x="513.80" y="435.80" text-anchor="end" class="l">a</text>
<text x="549.70" y="343.50" text-anchor="end" class="l">a</text>
<text x="549.70" y="372.30" text-anchor="end" class="l">a</text>
<text x="549.70" y="395.70" text-anchor="end" class="l">a</text>
<text x="549.70" y="420.90" text-anchor="end" class="l">a</text>
<text x="549.70" y="434.00" text-anchor="end" class="l">a</text>
<text x="585.60" y="340.20" text-anchor="end" class="l">b</text>
<text x="585.60" y="359.40" text-anchor="end" class="l">ab</text>
<text x="585.60" y="387.00" text-anchor="end" class="l">ab</text>
<text x="585.60" y="419.50" text-anchor="end" class="l">a</text>
<text x="585.60" y="430.90" text-anchor="end" class="l">a</text>
<text x="621.50" y="331.10" text-anchor="end" class="l">b</text>
<text x="621.50" y="365.00" text-anchor="end" class="l">ab</text>
<text x="621.50" y="377.70" text-anchor="end" class="l">ab</text>
<text x="621.50" y="419.10" text-anchor="end" class="l">a</text>
<text x="621.50" y="430.90" text-anchor="end" class="l">a</text>
<text x="657.40" y="331.50" text-anchor="end" class="l">c</text>
<text x="657.40" y="341.90" text-anchor="end" class="l">c</text>
<text x="657.40" y="355.30" text-anchor="end" class="l">bc</text>
<text x="657.40" y="408.70" text-anchor="end" class="l">ab</text>
<text x="657.40" y="427.80" text-anchor="end" class="l">a</text>
<text x="693.30" y="331.10" text-anchor="end" class="l">b</text>
<text x="693.30" y="346.60" text-anchor="end" class="l">ab</text>
<text x="693.30" y="377.50" text-anchor="end" class="l">ab</text>
<text x="693.30" y="409.60" text-anchor="end" class="l">ab</text>
<text x="693.30" y="423.60" text-anchor="end" class="l">a</text>
<text x="739.70" y="324.30" class="l">b</text>
<text x="739.70" y="335.20" class="l">b</text>
<text x="740.20" y="363.60" class="l">ab</text>
<text x="740.20" y="410.80" class="l">a</text>
<text x="740.20" y="417.40" class="l">a</text>
<text transform="translate(410.0,390.0) rotate(-90)" text-anchor="middle" class="ti">Non-photochemical quenching (NPQ)</text>
<text x="609.2" y="543.5" text-anchor="middle" class="ti">Time (weeks)</text>
</svg></body></html>
